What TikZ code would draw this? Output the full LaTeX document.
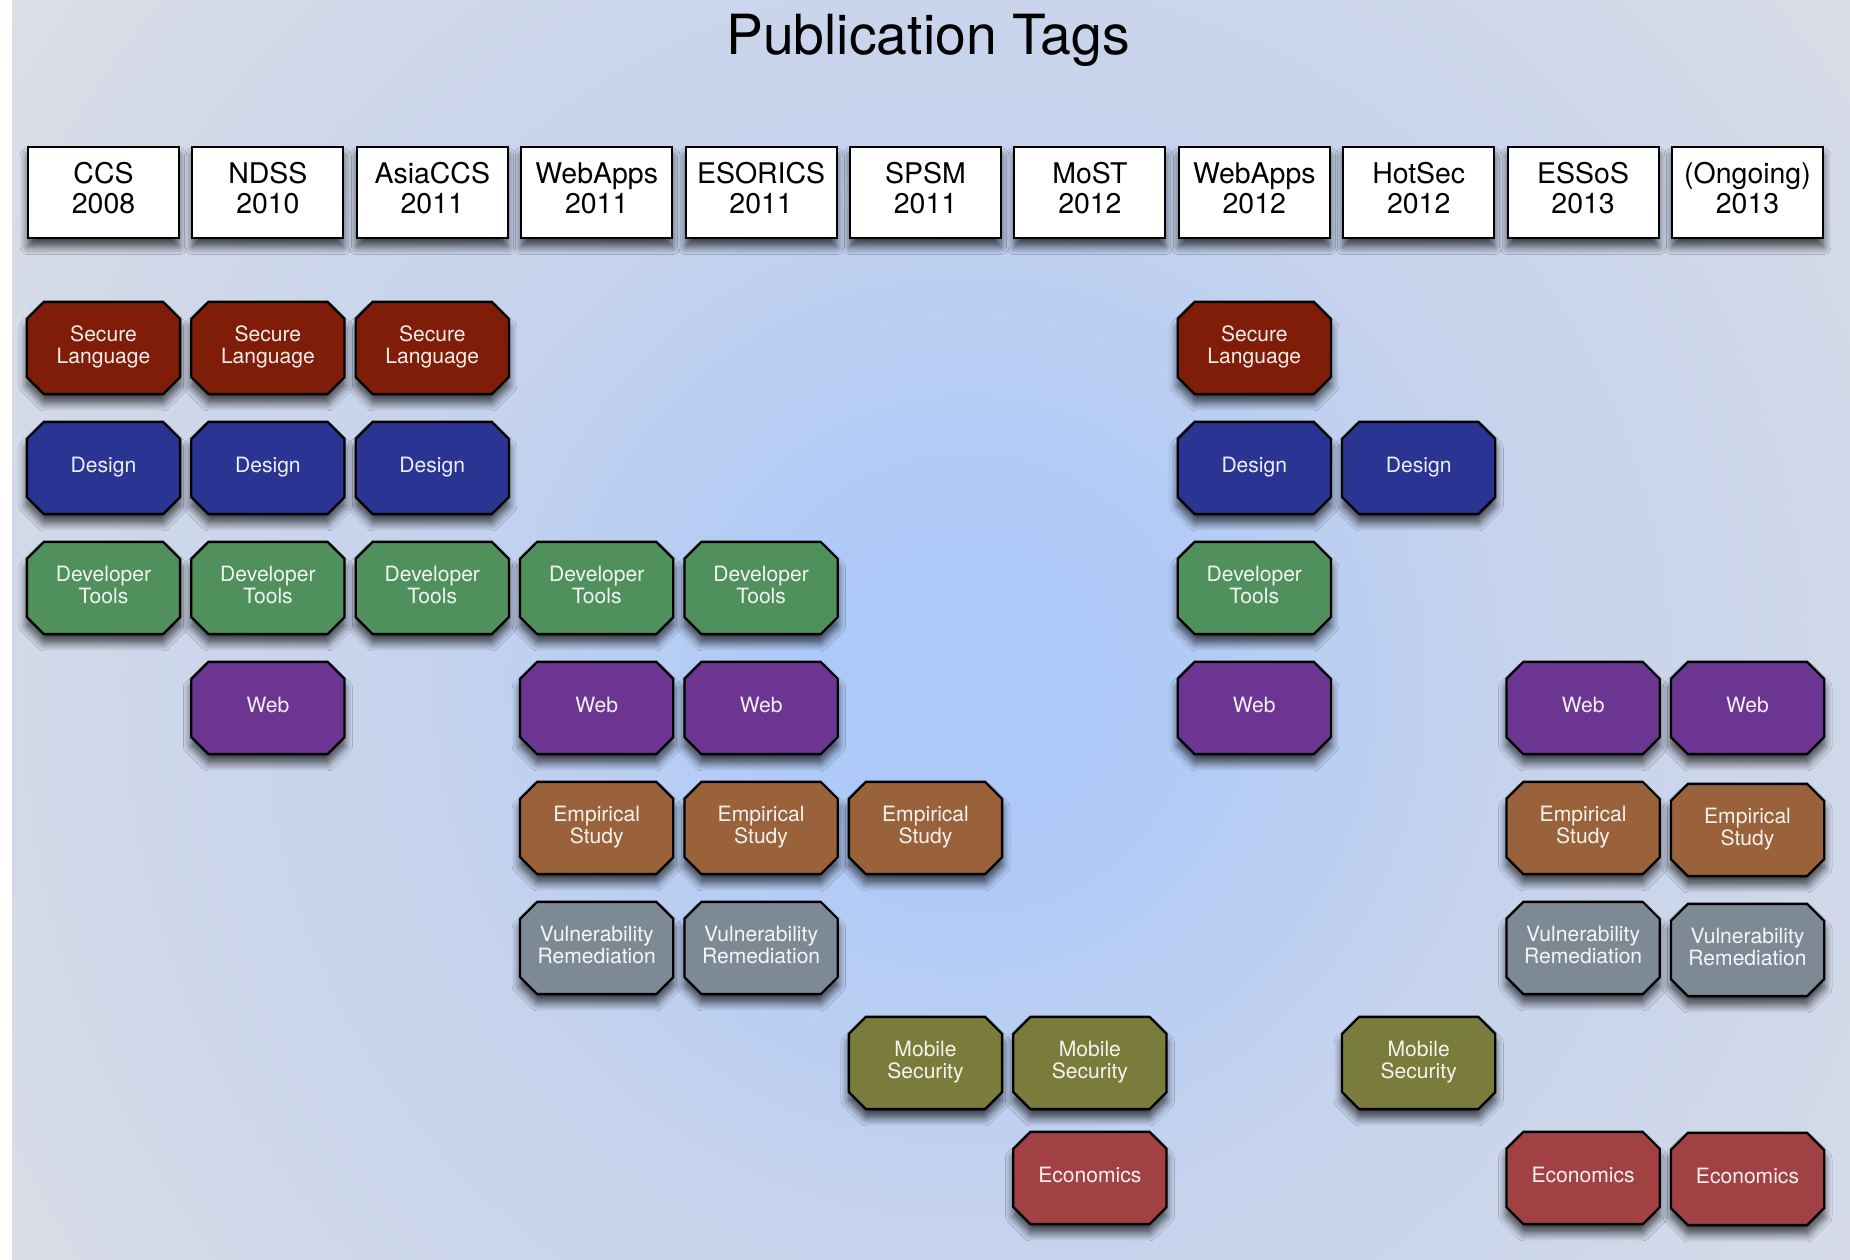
\documentclass[tikz,border=0pt]{standalone}
\usepackage{fontspec}
\setmainfont{TeX Gyre Heros}
\usetikzlibrary{positioning,shadows.blur}

\definecolor{bgin}{HTML}{ADC9F8}
\definecolor{bgmid}{HTML}{C6D3ED}
\definecolor{bgedge}{HTML}{D2D9E8}
\definecolor{bgcorner}{HTML}{DCDFE6}
\definecolor{slred}{HTML}{801D08}
\definecolor{dsblue}{HTML}{293493}
\definecolor{dtgreen}{HTML}{4F905C}
\definecolor{webpurple}{HTML}{6C3592}
\definecolor{empbrown}{HTML}{9A623A}
\definecolor{vrgray}{HTML}{7D8994}
\definecolor{msolive}{HTML}{7A7C3B}
\definecolor{ecored}{HTML}{A24144}
\pgfdeclareradialshading{pubbg}{\pgfpoint{0bp}{0bp}}{color(0bp)=(bgin); color(3bp)=(bgin); color(11.5bp)=(bgmid); color(20bp)=(bgedge); color(24.5bp)=(bgcorner); color(50bp)=(bgcorner)}

% octagon shaped tag box (rectangle with cut corners)
\newcommand{\octcut}{0.34cm}
\makeatletter
\pgfdeclareshape{octagonbox}{
  \inheritsavedanchors[from=rectangle]
  \inheritanchorborder[from=rectangle]
  \inheritanchor[from=rectangle]{center}
  \inheritanchor[from=rectangle]{north}
  \inheritanchor[from=rectangle]{south}
  \inheritanchor[from=rectangle]{east}
  \inheritanchor[from=rectangle]{west}
  \inheritanchor[from=rectangle]{text}
  \backgroundpath{
    \southwest \edef\octx{\the\pgf@x}\edef\octy{\the\pgf@y}
    \northeast \edef\octX{\the\pgf@x}\edef\octY{\the\pgf@y}
    \pgfpathmoveto{\pgfpoint{\octx+\octcut}{\octy}}
    \pgfpathlineto{\pgfpoint{\octX-\octcut}{\octy}}
    \pgfpathlineto{\pgfpoint{\octX}{\octy+\octcut}}
    \pgfpathlineto{\pgfpoint{\octX}{\octY-\octcut}}
    \pgfpathlineto{\pgfpoint{\octX-\octcut}{\octY}}
    \pgfpathlineto{\pgfpoint{\octx+\octcut}{\octY}}
    \pgfpathlineto{\pgfpoint{\octx}{\octY-\octcut}}
    \pgfpathlineto{\pgfpoint{\octx}{\octy+\octcut}}
    \pgfpathclose
  }
}
\makeatother

\begin{document}
\begin{tikzpicture}[
  x=0.02cm, y=-0.02cm,
  shd/.style={blur shadow={shadow xshift=0pt, shadow yshift=-5pt,
              shadow blur radius=4.5pt, shadow blur steps=8, shadow opacity=70}},
  hdr/.style={draw, line width=1.1pt, fill=white, shd, minimum width=3.02cm,
              minimum height=1.82cm, inner sep=0pt, align=center, text depth=5pt,
              font=\fontsize{16.2}{17}\selectfont},
  tag/.style={octagonbox, draw, line width=1.3pt, shd,
              minimum width=3.02cm, minimum height=1.8cm, inner sep=0pt,
              align=center, text=white, text opacity=0.92, text depth=3.5pt,
              font=\fontsize{12}{12.5}\selectfont},
  seclang/.style={tag, fill=slred},
  design/.style={tag, fill=dsblue},
  devtools/.style={tag, fill=dtgreen},
  web/.style={tag, fill=webpurple},
  empirical/.style={tag, fill=empbrown},
  vulnrem/.style={tag, fill=vrgray},
  mobsec/.style={tag, fill=msolive},
  econ/.style={tag, fill=ecored},
]
\useasboundingbox (0,0) rectangle (1850,1260);
\fill[white] (0,0) rectangle (1850,1260);
\begin{scope}
  \clip (12,0) rectangle (1850,1260);
  \shade[shading=pubbg] (-233,-516) rectangle (2167,1884);
\end{scope}

\node[anchor=base, font=\fontsize{31.5}{31.5}\selectfont] (title) at (928,55) {Publication Tags};

% venues
\node[hdr] (h1) at (103.5,192.5) {CCS\\2008};
\node[hdr, right=0.23cm of h1] (h2) {NDSS\\2010};
\node[hdr, right=0.23cm of h2] (h3) {AsiaCCS\\2011};
\node[hdr, right=0.23cm of h3] (h4) {WebApps\\2011};
\node[hdr, right=0.23cm of h4] (h5) {ESORICS\\2011};
\node[hdr, right=0.23cm of h5] (h6) {SPSM\\2011};
\node[hdr, right=0.23cm of h6] (h7) {MoST\\2012};
\node[hdr, right=0.23cm of h7] (h8) {WebApps\\2012};
\node[hdr, right=0.23cm of h8] (h9) {HotSec\\2012};
\node[hdr, right=0.23cm of h9] (h10) {ESSoS\\2013};
\node[hdr, right=0.23cm of h10] (h11) {(Ongoing)\\2013};

% tags per venue
\foreach \c in {1,2,3,8}
  \node[seclang] (sl\c) at (h\c |- 0,348) {Secure\\Language};
\foreach \c in {1,2,3,8,9}
  \node[design] (ds\c) at (h\c |- 0,468) {Design};
\foreach \c in {1,2,3,4,5,8}
  \node[devtools] (dt\c) at (h\c |- 0,588) {Developer\\Tools};
\foreach \c in {2,4,5,8,10,11}
  \node[web] (wb\c) at (h\c |- 0,708) {Web};
\foreach \c/\y in {4/828,5/828,6/828,10/828,11/830}
  \node[empirical] (es\c) at (h\c |- 0,\y) {Empirical\\Study};
\foreach \c/\y in {4/948,5/948,10/948,11/950}
  \node[vulnrem] (vr\c) at (h\c |- 0,\y) {Vulnerability\\Remediation};
\foreach \c in {6,7,9}
  \node[mobsec] (ms\c) at (h\c |- 0,1063) {Mobile\\Security};
\foreach \c/\y in {7/1178,10/1178,11/1179}
  \node[econ] (ec\c) at (h\c |- 0,\y) {Economics};
\end{tikzpicture}
\end{document}
